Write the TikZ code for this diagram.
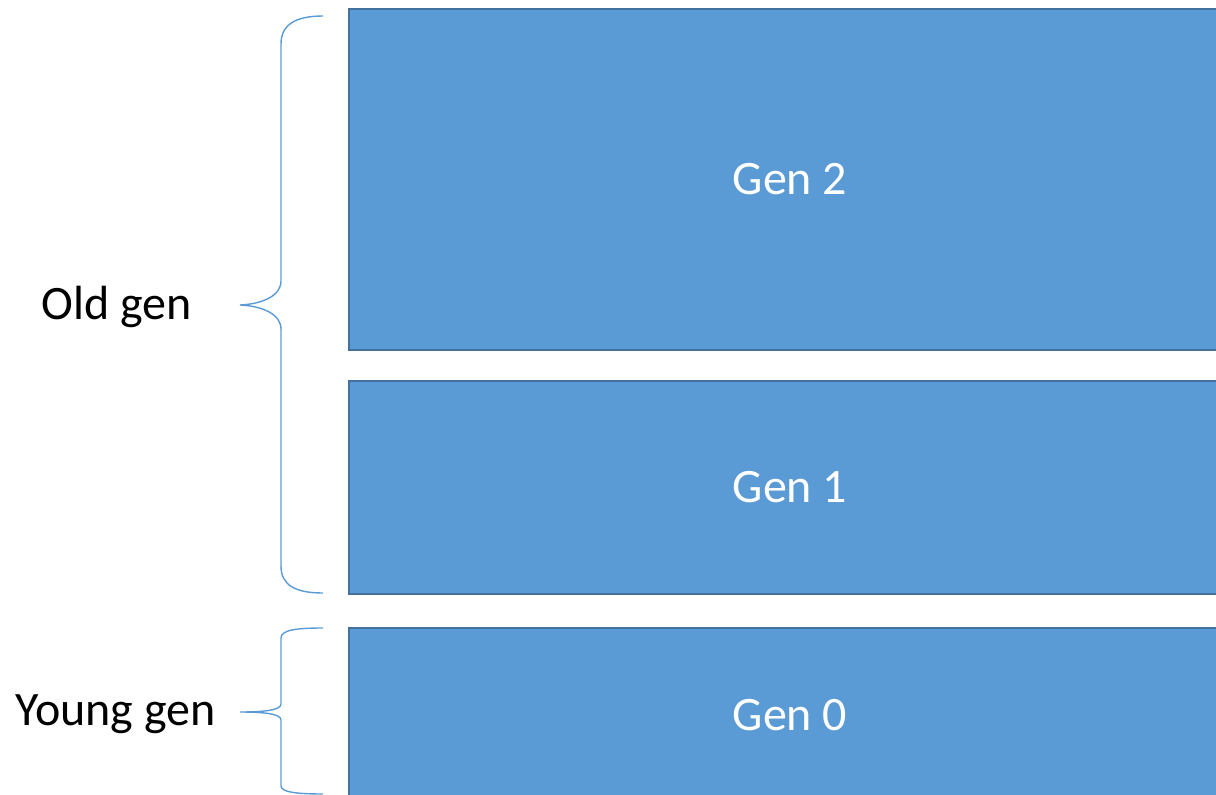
\documentclass[tikz,border=0pt]{standalone}
\usepackage{fontspec}
\setmainfont{Carlito}
\definecolor{genfill}{HTML}{5B9BD5}
\definecolor{genedge}{HTML}{41719C}
\definecolor{bracecol}{HTML}{5B9BD5}
\begin{document}
\begin{tikzpicture}[x=1pt,y=-1pt,
  genbox/.style={draw=genedge, line width=2pt, fill=genfill, text=white,
    anchor=north west, inner sep=0pt, font=\fontsize{48}{54}\selectfont},
  genlabel/.style={text=black, inner sep=0pt, font=\fontsize{48}{54}\selectfont},
  brace/.style={draw=bracecol, line width=1.4pt}]
\useasboundingbox (0,0) rectangle (1216,795);
\clip (0,0) rectangle (1216,795);

% generation blocks
\node[genbox, minimum width=883pt, minimum height=341.5pt] (gen2) at (347.5,7.5) {Gen 2};
\node[genbox, minimum width=883pt, minimum height=213pt] (gen1) at (347.5,380) {Gen 1};
\node[genbox, minimum width=883pt, minimum height=174pt] (gen0) at (347.5,627) {Gen 0};

% labels
\node[genlabel] (old) at (117,307) {Old gen};
\node[genlabel] (young) at (115.5,714) {Young gen};

% brace tips
\coordinate (oldtip) at (240,305);
\coordinate (youngtip) at (240,712);

% old generation brace
\path[brace] (323,16) .. controls (295,16) and (281,25) .. (281,44)
  -- (281,281) .. controls (281,296) and (262,304) .. (oldtip)
  .. controls (262,306) and (281,314) .. (281,329)
  -- (281,566) .. controls (281,585) and (295,593) .. (323,593);

% young generation brace
\path[brace] (323,628) .. controls (296,628) and (281,630) .. (281,638)
  -- (281,704) .. controls (281,710) and (265,712) .. (youngtip)
  .. controls (265,712) and (281,714) .. (281,720)
  -- (281,786) .. controls (281,792) and (296,794) .. (323,794);
\end{tikzpicture}
\end{document}
